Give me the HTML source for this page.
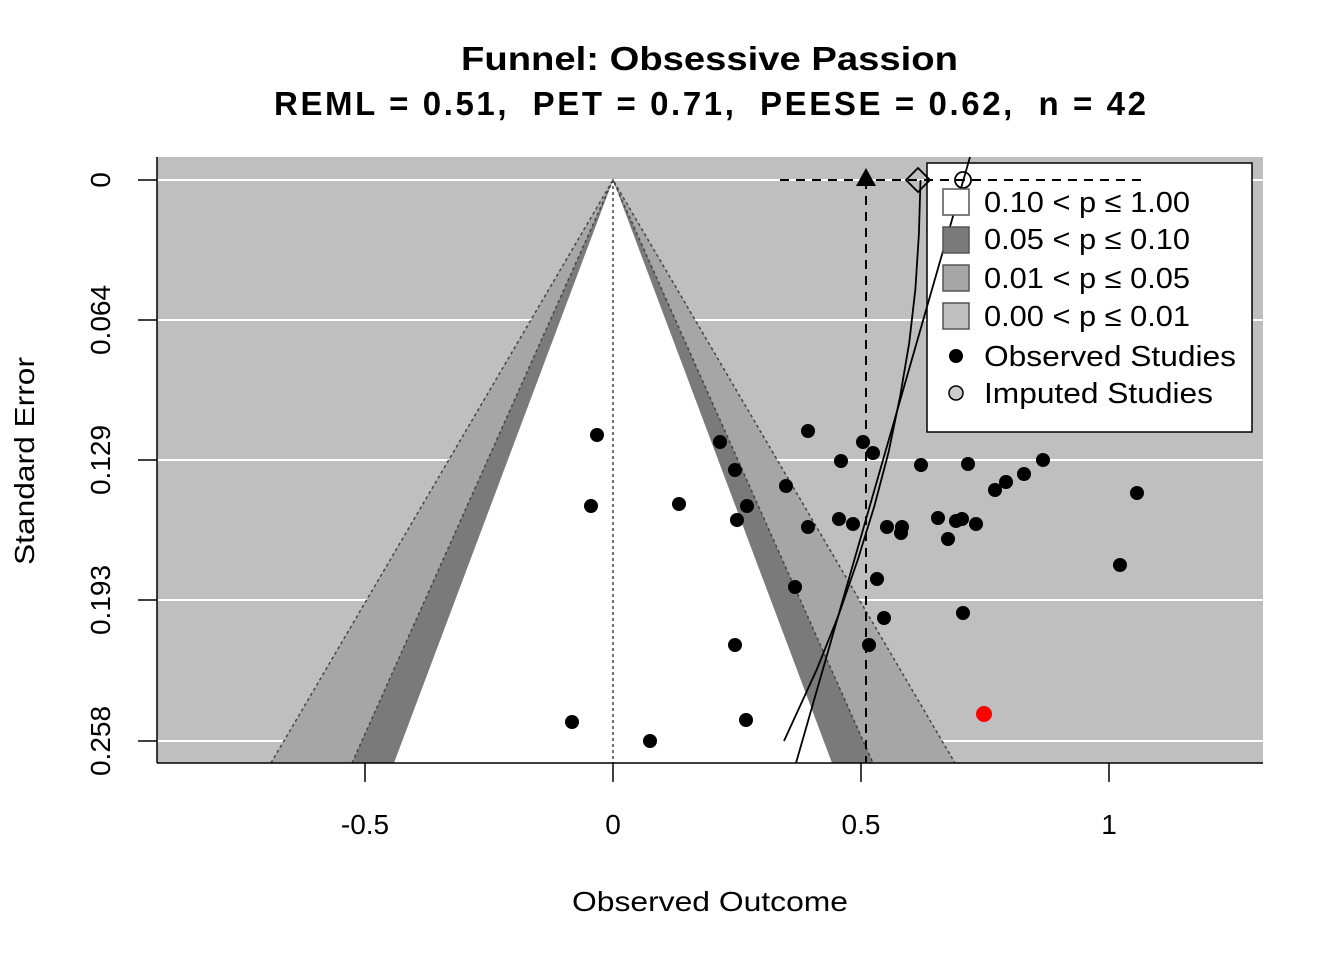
<!DOCTYPE html>
<html><head><meta charset="utf-8"><style>
html,body{margin:0;padding:0;background:#fff;}
svg{display:block;font-family:"Liberation Sans",Arial,sans-serif;}
</style></head><body>
<svg width="1344" height="960" viewBox="0 0 1344 960" xmlns="http://www.w3.org/2000/svg">
<defs><clipPath id="pc"><rect x="157" y="157" width="1106" height="606"/></clipPath></defs>
<text x="461" y="70" font-size="33" font-weight="bold" textLength="497" lengthAdjust="spacingAndGlyphs">Funnel: Obsessive Passion</text>
<text x="274" y="115" font-size="33" font-weight="bold" textLength="872" lengthAdjust="spacing" xml:space="preserve">REML = 0.51,  PET = 0.71,  PEESE = 0.62,  n = 42</text>
<g clip-path="url(#pc)">
<rect x="157" y="157" width="1106" height="606" fill="#bfbfbf"/>
<g stroke="#fff" stroke-width="2">
<line x1="157" x2="1263" y1="180" y2="180"/><line x1="157" x2="1263" y1="320" y2="320"/>
<line x1="157" x2="1263" y1="460" y2="460"/><line x1="157" x2="1263" y1="600" y2="600"/>
<line x1="157" x2="1263" y1="741" y2="741"/></g>
<polygon points="613,180 271,763 955,763" fill="#a6a6a6"/>
<polygon points="613,180 352,763 873,763" fill="#7a7a7a"/>
<polygon points="613,180 394,763 832,763" fill="#fff"/>
<g stroke="#444" stroke-width="1.5" stroke-dasharray="3,3" fill="none">
<polyline points="271,763 613,180 955,763"/>
<polyline points="352,763 613,180 873,763"/>
<line x1="613" y1="180" x2="613" y2="763"/>
</g>
<g fill="#000">
<circle cx="597" cy="435" r="7"/><circle cx="720" cy="442" r="7"/><circle cx="735" cy="470" r="7"/><circle cx="747" cy="506" r="7"/><circle cx="737" cy="520" r="7"/><circle cx="591" cy="506" r="7"/><circle cx="679" cy="504" r="7"/><circle cx="808" cy="431" r="7"/><circle cx="863" cy="442" r="7"/><circle cx="873" cy="453" r="7"/><circle cx="841" cy="461" r="7"/><circle cx="921" cy="465" r="7"/><circle cx="968" cy="464" r="7"/><circle cx="1043" cy="460" r="7"/><circle cx="1024" cy="474" r="7"/><circle cx="1006" cy="482" r="7"/><circle cx="995" cy="490" r="7"/><circle cx="1137" cy="493" r="7"/><circle cx="786" cy="486" r="7"/><circle cx="808" cy="527" r="7"/><circle cx="839" cy="519" r="7"/><circle cx="853" cy="524" r="7"/><circle cx="887" cy="527" r="7"/><circle cx="902" cy="527" r="7"/><circle cx="901" cy="533" r="7"/><circle cx="938" cy="518" r="7"/><circle cx="956" cy="521" r="7"/><circle cx="962" cy="519" r="7"/><circle cx="976" cy="524" r="7"/><circle cx="948" cy="539" r="7"/><circle cx="1120" cy="565" r="7"/><circle cx="877" cy="579" r="7"/><circle cx="795" cy="587" r="7"/><circle cx="884" cy="618" r="7"/><circle cx="963" cy="613" r="7"/><circle cx="735" cy="645" r="7"/><circle cx="869" cy="645" r="7"/><circle cx="746" cy="720" r="7"/><circle cx="572" cy="722" r="7"/><circle cx="650" cy="741" r="7"/>
</g>
<circle cx="984" cy="714" r="8" fill="#f00"/>
<rect x="927" y="163" width="325" height="269" fill="#fff" stroke="#000" stroke-width="1.5"/>
<g stroke="#000" stroke-width="2" stroke-dasharray="9,7">
<line x1="866" y1="180" x2="866" y2="763"/>
<line x1="780" y1="180" x2="1148" y2="180"/>
</g>
<g stroke="#000" stroke-width="1.8" fill="none">
<line x1="970" y1="157" x2="796" y2="763"/>
<polyline points="920.5,180 918.9,234 915.4,289 909.2,343 900,397 888.6,452 874.4,506 857.7,560 838.6,615 817,669 784,741"/>
</g>
<polygon points="866,168 856,186 876,186" fill="#000"/>
<polygon points="918,168 930,180 918,192 906,180" fill="none" stroke="#000" stroke-width="1.8"/>
<circle cx="963" cy="180" r="8" fill="none" stroke="#000" stroke-width="1.8"/>
</g>
<g stroke="#000" stroke-width="1.5">
<line x1="157" y1="157" x2="157" y2="763"/>
<line x1="157" y1="763" x2="1263" y2="763"/>
<line x1="365" y1="763" x2="365" y2="782"/><line x1="613" y1="763" x2="613" y2="782"/>
<line x1="861" y1="763" x2="861" y2="782"/><line x1="1109" y1="763" x2="1109" y2="782"/>
<line x1="138" y1="180" x2="157" y2="180"/><line x1="138" y1="320" x2="157" y2="320"/>
<line x1="138" y1="460" x2="157" y2="460"/><line x1="138" y1="600" x2="157" y2="600"/>
<line x1="138" y1="741" x2="157" y2="741"/>
</g>
<g font-size="28" text-anchor="middle">
<text x="365" y="834">-0.5</text><text x="613" y="834">0</text><text x="861" y="834">0.5</text><text x="1109" y="834">1</text>
<text transform="translate(110,180) rotate(-90)">0</text>
<text transform="translate(110,320) rotate(-90)">0.064</text>
<text transform="translate(110,460) rotate(-90)">0.129</text>
<text transform="translate(110,600) rotate(-90)">0.193</text>
<text transform="translate(110,741) rotate(-90)">0.258</text>
</g>
<g font-size="28">
<text x="572" y="911" textLength="276" lengthAdjust="spacingAndGlyphs">Observed Outcome</text>
<text transform="translate(34,565) rotate(-90)" textLength="208" lengthAdjust="spacingAndGlyphs">Standard Error</text>
</g>
<g stroke="#555" stroke-width="1.5">
<rect x="943" y="189" width="26" height="26" fill="#fff"/>
<rect x="943" y="227" width="26" height="26" fill="#7a7a7a"/>
<rect x="943" y="265" width="26" height="26" fill="#a6a6a6"/>
<rect x="943" y="303" width="26" height="26" fill="#bfbfbf"/>
</g>
<circle cx="956" cy="356" r="7" fill="#000"/>
<circle cx="956" cy="393" r="7" fill="#ccc" stroke="#000" stroke-width="1.5"/>
<g font-size="29">
<text x="984" y="212" textLength="206" lengthAdjust="spacingAndGlyphs">0.10 &lt; p ≤ 1.00</text>
<text x="984" y="249" textLength="206" lengthAdjust="spacingAndGlyphs">0.05 &lt; p ≤ 0.10</text>
<text x="984" y="288" textLength="206" lengthAdjust="spacingAndGlyphs">0.01 &lt; p ≤ 0.05</text>
<text x="984" y="326" textLength="206" lengthAdjust="spacingAndGlyphs">0.00 &lt; p ≤ 0.01</text>
<text x="984" y="366" textLength="252" lengthAdjust="spacingAndGlyphs">Observed Studies</text>
<text x="984" y="403" textLength="229" lengthAdjust="spacingAndGlyphs">Imputed Studies</text>
</g>
</svg>
</body></html>
